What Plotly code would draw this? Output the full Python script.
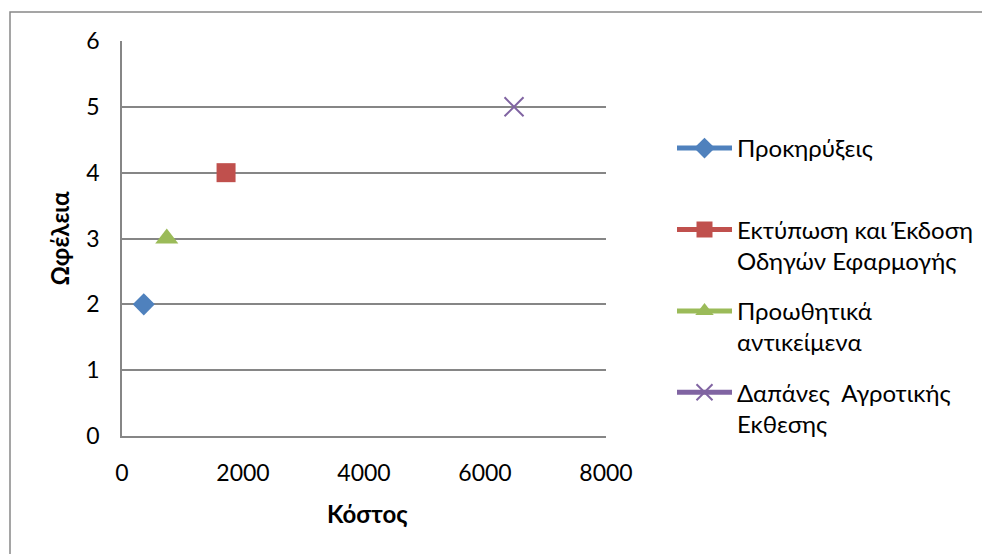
import plotly.graph_objects as go

# Data
series_names = [
    "Προκηρύξεις<br> ",
    "Εκτύπωση και Έκδοση<br>Οδηγών Εφαρμογής",
    "Προωθητικά<br>αντικείμενα",
    "Δαπάνες  Αγροτικής<br>Εκθεσης",
]
cost = [360, 1720, 740, 6480]
benefit = [2, 4, 3, 5]
colors = ["#4F81BD", "#C0504D", "#9BBB59", "#8064A2"]
symbols = ["diamond", "square", "triangle-up", "x-thin"]
sizes = [17, 19, 20, 19]

x_ticks = [0, 2000, 4000, 6000, 8000]
y_ticks = [0, 1, 2, 3, 4, 5, 6]
x_title = "Κόστος"
y_title = "Ωφέλεια"

# page offset (body margin) is 8px
OFF = 8
W, H = 990, 554
L, R, T, B = 122 - OFF, 606 - OFF, 41 - OFF, 436 - OFF

fig = go.Figure()
for i, name in enumerate(series_names):
    marker = dict(symbol=symbols[i], size=sizes[i], color=colors[i])
    if symbols[i] == "x-thin":
        marker["line"] = dict(color=colors[i], width=2)
    else:
        marker["line"] = dict(width=0)
    fig.add_trace(go.Scatter(
        x=[cost[i]], y=[benefit[i]], name=name,
        mode="lines+markers",
        line=dict(color=colors[i], width=5),
        marker=marker,
        legendgroup=str(i),
    ))

FONT = "Lato, 'Open Sans', sans-serif"

def px_x(p):
    return (p - OFF - L) / (R - L)

def px_y(p):
    return (B - (p - OFF)) / (B - T)

fig.add_shape(type="rect", xref="paper", yref="paper",
              x0=px_x(10), x1=px_x(1010), y0=px_y(580), y1=px_y(12),
              line=dict(color="#888888", width=1.5), fillcolor="rgba(0,0,0,0)",
              layer="below")

fig.add_annotation(text="<b>" + x_title + "</b>", xref="paper", yref="paper",
                   x=px_x(367), y=px_y(513), xanchor="center", yanchor="middle",
                   showarrow=False, font=dict(family=FONT, size=24, color="black"))

fig.update_layout(
    width=W, height=H,
    margin=dict(l=L, r=W - R, t=T, b=H - B, autoexpand=False),
    paper_bgcolor="white", plot_bgcolor="white",
    font=dict(family=FONT, size=23, color="black"),
    showlegend=True,
    legend=dict(
        x=px_x(672), y=px_y(126), xanchor="left", yanchor="top",
        font=dict(family=FONT, size=24, color="black"),
        valign="top", tracegroupgap=16, itemwidth=55,
        bgcolor="rgba(0,0,0,0)",
    ),
    xaxis=dict(
        range=[0, 8000], tickvals=x_ticks, showgrid=False, zeroline=False,
        showline=True, linecolor="#868686", linewidth=1.5,
        ticks="", ticklabelstandoff=16,
        tickfont=dict(family=FONT, size=23),
    ),
    yaxis=dict(
        range=[0, 6], tickvals=y_ticks, showgrid=True, gridcolor="#868686", gridwidth=1.5,
        zeroline=False, showline=True, linecolor="#868686", linewidth=1.5,
        ticks="", ticklabelstandoff=16,
        tickfont=dict(family=FONT, size=23),
        title=dict(text="<b>" + y_title + "</b>", font=dict(family=FONT, size=24), standoff=10),
    ),
)

fig.write_html("out.html")
